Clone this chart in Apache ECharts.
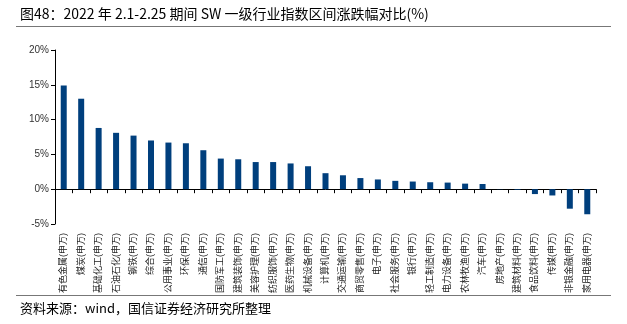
<!DOCTYPE html>
<html><head><meta charset="utf-8">
<script src="https://cdn.jsdelivr.net/npm/echarts@6/dist/echarts.min.js"></script>
<style>html,body{margin:0;padding:0;background:#fff}#c{width:627px;height:324px}</style>
</head><body><div id="c"></div>
<script>
const titleText = '图48：2022 年 2.1-2.25 期间 SW 一级行业指数区间涨跌幅对比(%)';
const sourceText = '资料来源：wind，国信证券经济研究所整理';
const categories = ['有色金属(申万)','煤炭(申万)','基础化工(申万)','石油石化(申万)','钢铁(申万)','综合(申万)','公用事业(申万)','环保(申万)','通信(申万)','国防军工(申万)','建筑装饰(申万)','美容护理(申万)','纺织服饰(申万)','医药生物(申万)','机械设备(申万)','计算机(申万)','交通运输(申万)','商贸零售(申万)','电子(申万)','社会服务(申万)','银行(申万)','轻工制造(申万)','电力设备(申万)','农林牧渔(申万)','汽车(申万)','房地产(申万)','建筑材料(申万)','食品饮料(申万)','传媒(申万)','非银金融(申万)','家用电器(申万)'];
const values = [14.9,13.0,8.8,8.1,7.7,7.0,6.7,6.6,5.6,4.4,4.3,3.9,3.9,3.7,3.3,2.3,2.0,1.6,1.4,1.2,1.1,1.0,0.95,0.8,0.75,-0.03,-0.1,-0.7,-0.9,-2.8,-3.6];
const yMin = -5, yMax = 20, yStep = 5;

const font = '"Liberation Sans","Noto Sans CJK SC",sans-serif';
const chart = echarts.init(document.getElementById('c'), null, {renderer:'canvas'});
chart.setOption({
  animation:false,
  backgroundColor:'#fff',
  graphic:[
    {type:'text', left:20, top:7, style:{text:titleText, font:'14px "Noto Sans CJK SC",sans-serif', fill:'#000'}},
    {type:'rect', z:100, shape:{x:16,y:26,width:595,height:1}, style:{fill:'#777'}},
    {type:'rect', z:100, shape:{x:16,y:295,width:595,height:1}, style:{fill:'#777'}},
    {type:'text', left:20, top:302, style:{text:sourceText, font:'13px "Noto Sans CJK SC",sans-serif', fill:'#000'}}
  ],
  grid:{left:55, right:31, top:50, bottom:100, containLabel:false},
  xAxis:{
    type:'category', data:categories,
    axisLine:{onZero:true, lineStyle:{color:'#000', width:1}},
    axisTick:{show:true, alignWithLabel:false, length:4, lineStyle:{color:'#000'}},
    axisLabel:{rotate:90, interval:0, fontSize:9, color:'#222', margin:9, fontFamily:font}
  },
  yAxis:{
    type:'value', min:yMin, max:yMax, interval:yStep,
    splitLine:{show:false},
    axisLine:{show:true, lineStyle:{color:'#000', width:1}},
    axisTick:{show:true, length:4, lineStyle:{color:'#000'}},
    axisLabel:{formatter:'{value}%', fontSize:10, color:'#333', margin:6, fontFamily:font}
  },
  series:[{type:'bar', data:values, barWidth:6, itemStyle:{color:'#003f7d'}}]
});
</script></body></html>
